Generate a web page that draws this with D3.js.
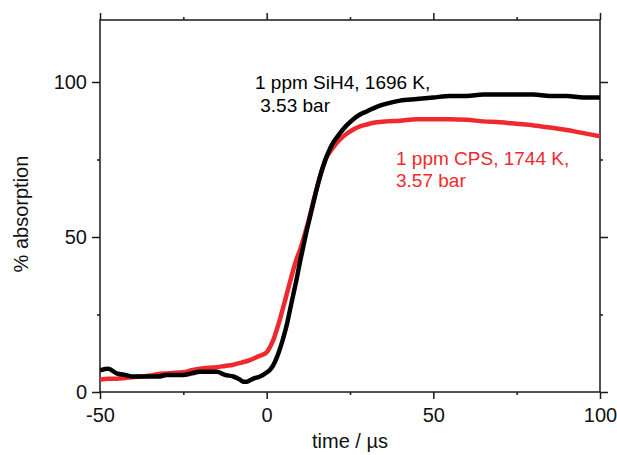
<!DOCTYPE html>
<html><head><meta charset="utf-8">
<script src="https://cdn.jsdelivr.net/npm/d3@7"></script>
<style>body{margin:0;background:#fff}svg{display:block}text{font-family:"Liberation Sans",Arial,sans-serif}</style>
</head><body><svg id="c" width="617" height="455"></svg>
<script>
const sihTime = [-50,-47.5,-45,-42.5,-40,-37.5,-35,-32.5,-30,-27.5,-25,-22.5,-20,-17.5,-15,-12.5,-10,-8,-7,-6,-5,-4,-2,0,1,2,3,4,5,6,7,8,9,10,11,12,13,14,15,16,17,18,19,20,22,24,26,28,30,33,36,40,45,50,55,60,65,70,75,80,85,90,95,100];
const sihAbs  = [7,7.5,6,5.5,5,5,5,5,5.5,5.5,5.5,6,6.5,6.5,6.5,5.5,5,4,3.3,3.3,3.8,4.3,5,6.3,7.2,8.7,11,14,17.5,21.5,26.5,31.5,36.5,42,47,52,56.5,61,65.5,69.5,73,76,78.5,80.5,83.5,86,88,89.5,90.5,92,93,94,94.5,95,95.5,95.5,96,96,96,96,95.5,95.5,95,95];
const cpsTime = [-50,-47.5,-45,-42.5,-40,-37.5,-35,-32.5,-30,-27.5,-25,-22.5,-20,-17.5,-15,-12.5,-10,-7.5,-5,-2.5,0,1,2,3,4,5,6,7,8,9,10,11,12,13,14,15,16,17,18,19,20,22,24,26,28,30,33,36,40,45,50,55,60,65,70,75,80,85,90,95,100];
const cpsAbs  = [4,4.3,4.3,4.5,4.8,5,5.3,5.8,6,6.2,6.4,7,7.5,7.8,8,8.4,8.8,9.5,10.3,11.5,12.8,14.5,16.8,20,23.5,27.5,31.5,35.5,39.5,43,45.8,49.3,53,57,61.5,65.5,69.5,73,75.8,77.5,79,81.5,83.3,84.7,85.7,86.3,87,87.3,87.5,88,88,88,87.8,87.3,87,86.5,86,85.3,84.5,83.5,82.5];
const xTicks = [-50,0,50,100];
const xMinor = [-25,25,75];
const yTicks = [0,50,100];
const yMinor = [25,75];
const sihLabel = ["1 ppm SiH4, 1696 K,", " 3.53 bar"];
const cpsLabel = ["1 ppm CPS, 1744 K,", "3.57 bar"];
const xTitle = "time / µs";
const yTitle = "% absorption";

const svg = d3.select("#c");
const L=100,R=600,T=20,B=392;
const x = d3.scaleLinear().domain([-50,100]).range([L,R]);
const y = d3.scaleLinear().domain([0,120]).range([B,T]);
const axisColor="#1a1a1a";
const fmt = d => String(d);

function ax(g, gen){ g.call(gen); g.select(".domain").attr("stroke",axisColor).attr("stroke-width",1.5); g.selectAll(".tick line").attr("stroke",axisColor).attr("stroke-width",1.5); }

// minor ticks
svg.append("g").attr("transform",`translate(0,${B})`).call(g=>ax(g,d3.axisBottom(x).tickValues(xMinor).tickSize(3).tickFormat("")));
svg.append("g").attr("transform",`translate(0,${T})`).call(g=>ax(g,d3.axisTop(x).tickValues(xMinor).tickSize(3).tickFormat("")));
svg.append("g").attr("transform",`translate(${L},0)`).call(g=>ax(g,d3.axisLeft(y).tickValues(yMinor).tickSize(3).tickFormat("")));
svg.append("g").attr("transform",`translate(${R},0)`).call(g=>ax(g,d3.axisRight(y).tickValues(yMinor).tickSize(3).tickFormat("")));

// major
const gb = svg.append("g").attr("transform",`translate(0,${B})`);
ax(gb, d3.axisBottom(x).tickValues(xTicks).tickSize(7).tickPadding(6).tickFormat(fmt));
gb.selectAll("text").attr("font-size",20).attr("fill","#111").attr("dy","0.85em");
svg.append("g").attr("transform",`translate(0,${T})`).call(g=>ax(g,d3.axisTop(x).tickValues(xTicks).tickSize(7).tickFormat("")));
const gl = svg.append("g").attr("transform",`translate(${L},0)`);
ax(gl, d3.axisLeft(y).tickValues(yTicks).tickSize(8).tickPadding(5).tickFormat(fmt));
gl.selectAll("text").attr("font-size",20).attr("fill","#111");
svg.append("g").attr("transform",`translate(${R},0)`).call(g=>ax(g,d3.axisRight(y).tickValues(yTicks).tickSize(8).tickFormat("")));
svg.selectAll(".domain").attr("d",null);
svg.append("rect").attr("x",L).attr("y",T).attr("width",R-L).attr("height",B-T).attr("fill","none").attr("stroke",axisColor).attr("stroke-width",1.5);

const line = d3.line().x(d=>x(d[0])).y(d=>y(d[1])).curve(d3.curveMonotoneX);
const cps = cpsTime.map((t,i)=>[t,cpsAbs[i]]);
const sih = sihTime.map((t,i)=>[t,sihAbs[i]]);
svg.append("clipPath").attr("id","pc").append("rect").attr("x",L).attr("y",T).attr("width",R-L).attr("height",B-T);
svg.append("path").datum(cps).attr("d",line).attr("fill","none").attr("stroke","#ee2a2e").attr("stroke-width",4.5).attr("stroke-linejoin","round").attr("clip-path","url(#pc)");
svg.append("path").datum(sih).attr("d",line).attr("fill","none").attr("stroke","#000").attr("stroke-width",4.5).attr("stroke-linejoin","round").attr("clip-path","url(#pc)");

const t1 = svg.append("text").attr("font-size",19).attr("fill","#000").attr("xml:space","preserve");
t1.append("tspan").attr("x",255).attr("y",89).text(sihLabel[0]);
t1.append("tspan").attr("x",255).attr("y",112).text(sihLabel[1]);
const t2 = svg.append("text").attr("font-size",19).attr("fill","#ee2a2e");
t2.append("tspan").attr("x",396).attr("y",165).text(cpsLabel[0]);
t2.append("tspan").attr("x",396).attr("y",187).text(cpsLabel[1]);

svg.append("text").attr("x",(L+R)/2).attr("y",448).attr("text-anchor","middle").attr("font-size",20).attr("fill","#111").text(xTitle);
svg.append("text").attr("transform",`translate(28,214) rotate(-90)`).attr("text-anchor","middle").attr("font-size",20).attr("fill","#111").text(yTitle);
</script></body></html>
